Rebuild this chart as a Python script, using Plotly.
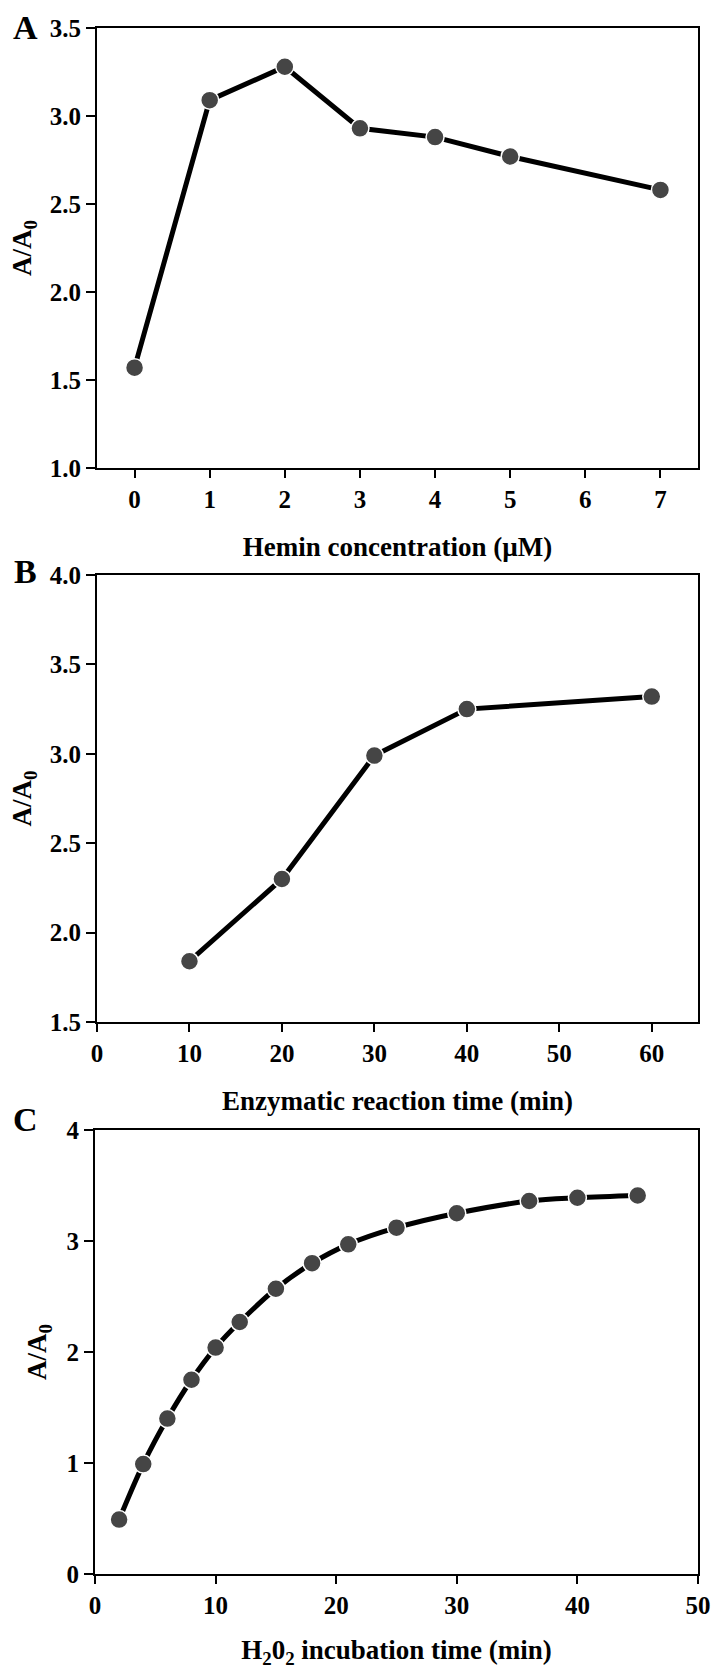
import plotly.graph_objects as go

W, H = 722, 1677

# Panel A
hemin_conc = [0, 1, 2, 3, 4, 5, 7]
hemin_ratio = [1.57, 3.09, 3.28, 2.93, 2.88, 2.77, 2.58]
# Panel B
enz_time = [10, 20, 30, 40, 60]
enz_ratio = [1.84, 2.30, 2.99, 3.25, 3.32]
# Panel C
h2o2_time = [2, 4, 6, 8, 10, 12, 15, 18, 21, 25, 30, 36, 40, 45]
h2o2_ratio = [0.49, 0.99, 1.40, 1.75, 2.04, 2.27, 2.57, 2.80, 2.97, 3.12, 3.25, 3.36, 3.39, 3.41]

xA_ticks = [0, 1, 2, 3, 4, 5, 6, 7]
yA_ticks = [1.0, 1.5, 2.0, 2.5, 3.0, 3.5]
xB_ticks = [0, 10, 20, 30, 40, 50, 60]
yB_ticks = [1.5, 2.0, 2.5, 3.0, 3.5, 4.0]
xC_ticks = [0, 10, 20, 30, 40, 50]
yC_ticks = [0, 1, 2, 3, 4]

FONT = "Liberation Serif"

fig = go.Figure()

marker = dict(size=18, color="#454545", line=dict(color="white", width=1.5))
line = dict(color="black", width=5)

fig.add_trace(go.Scatter(x=hemin_conc, y=hemin_ratio, mode="lines+markers",
                         marker=marker, line=line, xaxis="x", yaxis="y", showlegend=False))
fig.add_trace(go.Scatter(x=enz_time, y=enz_ratio, mode="lines+markers",
                         marker=marker, line=line, xaxis="x2", yaxis="y2", showlegend=False))
fig.add_trace(go.Scatter(x=h2o2_time, y=h2o2_ratio, mode="lines+markers",
                         marker=marker, line=dict(color="black", width=5, shape="spline", smoothing=1.0),
                         xaxis="x3", yaxis="y3", showlegend=False))

def px_dom_y(top, bottom):
    return [1 - bottom / H, 1 - top / H]

tickfont = dict(family=FONT, size=25, color="black", weight="bold")
titlefont = dict(family=FONT, size=27, color="black")

common_x = dict(showline=True, linecolor="black", linewidth=2, mirror=True,
                ticks="outside", ticklen=8, tickwidth=2, tickcolor="black",
                showgrid=False, zeroline=False, tickfont=tickfont, automargin=False)
common_y = dict(showline=True, linecolor="black", linewidth=2, mirror=True,
                ticks="outside", ticklen=9, tickwidth=2, tickcolor="black",
                showgrid=False, zeroline=False, tickfont=tickfont, automargin=False)

fig.update_layout(
    width=W, height=H,
    margin=dict(l=0, r=0, t=0, b=0),
    paper_bgcolor="white", plot_bgcolor="white",
    font=dict(family=FONT, color="black"),
    xaxis=dict(domain=[97 / W, 698 / W], range=[-0.5, 7.5], tickvals=xA_ticks,
               title=dict(text="<b>Hemin concentration (µM)</b>", font=titlefont, standoff=25),
               anchor="y", **common_x),
    yaxis=dict(domain=px_dom_y(28, 468), range=[1.0, 3.5], tickvals=yA_ticks, tickformat=".1f",
               title=dict(text="<b>A/A<sub>0</sub></b>", font=titlefont, standoff=10),
               anchor="x", **common_y),
    xaxis2=dict(domain=[97 / W, 698 / W], range=[0, 65], tickvals=xB_ticks,
                title=dict(text="<b>Enzymatic reaction time (min)</b>", font=titlefont, standoff=25),
                anchor="y2", **common_x),
    yaxis2=dict(domain=px_dom_y(575, 1022), range=[1.5, 4.0], tickvals=yB_ticks, tickformat=".1f",
                title=dict(text="<b>A/A<sub>0</sub></b>", font=titlefont, standoff=10),
                anchor="x2", **common_y),
    xaxis3=dict(domain=[95 / W, 698 / W], range=[0, 50], tickvals=xC_ticks,
                title=dict(text="<b>H<sub>2</sub>0<sub>2</sub> incubation time (min)</b>", font=titlefont, standoff=22),
                anchor="y3", **common_x),
    yaxis3=dict(domain=px_dom_y(1130, 1574), range=[0, 4], tickvals=yC_ticks,
                title=dict(text="<b>A/A<sub>0</sub></b>", font=titlefont, standoff=12),
                anchor="x3", **common_y),
)

for letter, ypx in [("A", 28), ("B", 571), ("C", 1119)]:
    fig.add_annotation(text="<b>%s</b>" % letter, xref="paper", yref="paper",
                       x=25 / W, y=1 - ypx / H, xanchor="center", yanchor="middle",
                       showarrow=False, font=dict(family=FONT, size=34, color="black"))

fig.write_html("out.html", config={"displayModeBar": False},
               post_script="document.body.style.margin='0';document.body.style.overflow='hidden';")
